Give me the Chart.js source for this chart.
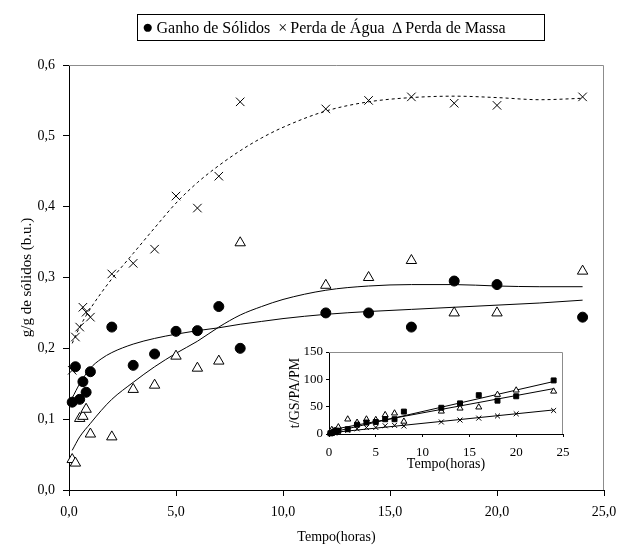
<!DOCTYPE html>
<html>
<head>
<meta charset="utf-8">
<script src="https://cdn.jsdelivr.net/npm/chart.js@4.4.1/dist/chart.umd.min.js"></script>
<style>
  body { margin: 0; background: #fff; }
  #wrap { position: relative; width: 619px; height: 548px; }
  #mainChart { position: absolute; left: 0; top: 0; }
  #insetChart { position: absolute; left: 270px; top: 340px; }
  #legend {
    position: absolute; left: 137px; top: 14px; width: 406px; height: 25px;
    border: 1px solid #000; font: 16px "Liberation Serif", "Times New Roman", serif;
    display: flex; align-items: center; white-space: nowrap; color: #000;
  }
  #legend .item { margin-left: 4px; margin-right: 4px; }
  #legend .sym { margin-right: 3px; }
  #legend .big { font-size: 19px; line-height: 16px; }
</style>
</head>
<body>
<div id="wrap">
  <canvas id="mainChart" width="619" height="548"></canvas>
  <canvas id="insetChart" width="300" height="136"></canvas>
  <div id="legend"></div>
</div>
<script>
// dados
const seriesLabels = ['Ganho de Sólidos', 'Perda de Água', 'Perda de Massa'];
const legendSymbols = ['●', '×', '∆'];

const tempo = [0.15, 0.3, 0.5, 0.65, 0.8, 1, 2, 3, 4, 5, 6, 7, 8, 12, 14, 16, 18, 20, 24];
const ganhoSolidos = [0.124, 0.174, 0.128, 0.153, 0.138, 0.167, 0.23, 0.176, 0.192, 0.224, 0.225, 0.259, 0.2, 0.25, 0.25, 0.23, 0.295, 0.29, 0.244];
const perdaAgua = [0.169, 0.216, 0.23, 0.258, 0.251, 0.244, 0.305, 0.32, 0.34, 0.415, 0.398, 0.443, 0.548, 0.538, 0.55, 0.555, 0.546, 0.543, 0.555];
const perdaMassa = [0.043, 0.038, 0.101, 0.104, 0.114, 0.079, 0.075, 0.142, 0.148, 0.189, 0.172, 0.182, 0.349, 0.289, 0.3, 0.324, 0.25, 0.25, 0.309];

// curvas de ajuste
const curvaX = [0.15, 0.5, 1, 1.5, 2, 3, 4, 5, 6, 7, 8, 9, 10, 12, 14, 16, 18, 20, 22, 24];
const curvaAgua = [0.207, 0.23, 0.256, 0.278, 0.298, 0.334, 0.37, 0.405, 0.434, 0.458, 0.479, 0.497, 0.512, 0.535, 0.548, 0.554, 0.556, 0.554, 0.551, 0.553];
const curvaGanho = [0.13, 0.15, 0.172, 0.185, 0.194, 0.206, 0.214, 0.22, 0.225, 0.229, 0.234, 0.238, 0.242, 0.248, 0.252, 0.255, 0.258, 0.261, 0.264, 0.268];
const curvaMassa = [0.056, 0.075, 0.094, 0.112, 0.128, 0.152, 0.174, 0.193, 0.21, 0.23, 0.247, 0.259, 0.269, 0.282, 0.288, 0.29, 0.29, 0.288, 0.287, 0.287];

const xTickVals = [0, 5, 10, 15, 20, 25];
const xTickLabels = ['0,0', '5,0', '10,0', '15,0', '20,0', '25,0'];
const yTickVals = [0, 0.1, 0.2, 0.3, 0.4, 0.5, 0.6];
const yTickLabels = ['0,0', '0,1', '0,2', '0,3', '0,4', '0,5', '0,6'];

// gráfico pequeno: t/GS, t/PA, t/PM
const insetGS = [1.2, 1.7, 3.9, 4.3, 5.8, 6, 8.7, 17, 21, 22, 27, 27, 41, 48, 56, 71, 61, 69, 98];
const insetPA = [0.9, 1.4, 2.2, 2.5, 3.2, 4.1, 6.6, 9.4, 11.8, 12, 15, 15.8, 14.6, 22, 25.5, 29, 33, 37, 43];
const insetPM = [3.5, 7.9, 5, 6.3, 7, 12.7, 27, 21, 27, 26, 35, 38, 23, 41.5, 47, 49, 72, 80, 78];
const retaX = [0, 24];
const retaGS = [2, 96];
const retaPA = [2, 44];
const retaPM = [7, 83];
const insetXTicks = [0, 5, 10, 15, 20, 25];
const insetYTicks = [0, 50, 100, 150];

const serif = '"Liberation Serif", "Times New Roman", serif';

function pts(xs, ys) {
  return xs.map((x, i) => ({ x: x, y: ys[i] }));
}

// borda cinza em cima e à direita da área do gráfico
const frame = {
  id: 'frame',
  beforeDraw(chart, args, opts) {
    if (opts.white) {
      chart.ctx.save();
      chart.ctx.fillStyle = '#fff';
      chart.ctx.fillRect(0, 0, chart.width, chart.height);
      chart.ctx.restore();
    }
  },
  beforeDatasetsDraw(chart) {
    const { ctx, chartArea: a } = chart;
    ctx.save();
    ctx.strokeStyle = '#8c8c8c';
    ctx.lineWidth = 1;
    ctx.beginPath();
    ctx.moveTo(a.left, Math.round(a.top) + 0.5);
    ctx.lineTo(Math.round(a.right) - 0.5, Math.round(a.top) + 0.5);
    ctx.lineTo(Math.round(a.right) - 0.5, a.bottom);
    ctx.stroke();
    ctx.restore();
  }
};

function markerSet(label, ys, xs, style, radius, fill) {
  return {
    label: label,
    data: pts(xs, ys),
    showLine: false,
    pointStyle: style,
    pointRadius: radius,
    pointBackgroundColor: fill,
    pointBorderColor: '#000',
    pointBorderWidth: 1,
    clip: false
  };
}

function curveSet(xs, ys, dash) {
  return {
    data: pts(xs, ys),
    showLine: true,
    pointRadius: 0,
    borderColor: '#000',
    borderWidth: 1,
    borderDash: dash,
    cubicInterpolationMode: 'monotone'
  };
}

// eixo x sem folga extra para o último rótulo
function fixX(h) {
  return s => { s.height = h; s.paddingLeft = 0; s.paddingRight = 0; };
}

new Chart(document.getElementById('mainChart'), {
  type: 'scatter',
  data: {
    datasets: [
      markerSet(seriesLabels[0], ganhoSolidos, tempo, 'circle', 5, '#000'),
      markerSet(seriesLabels[1], perdaAgua, tempo, 'crossRot', 6, '#000'),
      markerSet(seriesLabels[2], perdaMassa, tempo, 'triangle', 6, '#fff'),
      curveSet(curvaX, curvaAgua, [3, 3]),
      curveSet(curvaX, curvaGanho, []),
      curveSet(curvaX, curvaMassa, [])
    ]
  },
  options: {
    responsive: false,
    animation: false,
    layout: { padding: { top: 65, right: 15, left: 0, bottom: 0 } },
    plugins: {
      legend: { display: false },
      tooltip: { enabled: false },
      frame: {}
    },
    scales: {
      x: {
        type: 'linear',
        min: 0,
        max: 25,
        afterBuildTicks: s => { s.ticks = xTickVals.map(v => ({ value: v })); },
        afterFit: fixX(58),
        ticks: {
          callback: (v, i) => xTickLabels[i],
          font: { family: serif, size: 14 },
          color: '#000',
          padding: 8,
          maxRotation: 0
        },
        grid: { drawOnChartArea: false, tickLength: 6, tickColor: '#000' },
        border: { color: '#000', width: 1 },
        title: {
          display: true,
          text: 'Tempo(horas)',
          font: { family: serif, size: 14 },
          color: '#000',
          padding: { top: 0, bottom: 2 }
        }
      },
      y: {
        type: 'linear',
        min: 0,
        max: 0.6,
        afterBuildTicks: s => { s.ticks = yTickVals.map(v => ({ value: v })); },
        afterFit: s => { s.width = 69; },
        ticks: {
          callback: (v, i) => yTickLabels[i],
          font: { family: serif, size: 14 },
          color: '#000',
          padding: 8
        },
        grid: { drawOnChartArea: false, tickLength: 6, tickColor: '#000' },
        border: { color: '#000', width: 1 },
        title: {
          display: true,
          text: 'g/g de sólidos (b.u.)',
          font: { family: serif, size: 15 },
          color: '#000',
          padding: { top: 18, bottom: 0 }
        }
      }
    }
  },
  plugins: [frame]
});

// gráfico inserido
new Chart(document.getElementById('insetChart'), {
  type: 'scatter',
  data: {
    datasets: [
      markerSet('t/GS', insetGS, tempo, 'rect', 3.5, '#000'),
      markerSet('t/PA', insetPA, tempo, 'crossRot', 3.5, '#000'),
      markerSet('t/PM', insetPM, tempo, 'triangle', 3.5, '#fff'),
      curveSet(retaX, retaGS, []),
      curveSet(retaX, retaPA, []),
      curveSet(retaX, retaPM, [])
    ]
  },
  options: {
    responsive: false,
    animation: false,
    layout: { padding: { top: 12, right: 7, left: 0, bottom: 0 } },
    plugins: {
      legend: { display: false },
      tooltip: { enabled: false },
      frame: { white: true }
    },
    scales: {
      x: {
        type: 'linear',
        min: 0,
        max: 25,
        afterBuildTicks: s => { s.ticks = insetXTicks.map(v => ({ value: v })); },
        afterFit: fixX(42),
        ticks: {
          font: { family: serif, size: 13 },
          color: '#000',
          padding: 8,
          maxRotation: 0
        },
        grid: { drawOnChartArea: false, tickLength: 3, tickColor: '#000' },
        border: { color: '#000', width: 1 },
        title: {
          display: true,
          text: 'Tempo(horas)',
          font: { family: serif, size: 14 },
          color: '#000',
          padding: { top: 0, bottom: 3 }
        }
      },
      y: {
        type: 'linear',
        min: 0,
        max: 150,
        afterBuildTicks: s => { s.ticks = insetYTicks.map(v => ({ value: v })); },
        afterFit: s => { s.width = 59; },
        ticks: {
          font: { family: serif, size: 13 },
          color: '#000',
          padding: 3
        },
        grid: { drawOnChartArea: false, tickLength: 3, tickColor: '#000' },
        border: { color: '#000', width: 1 },
        title: {
          display: true,
          text: 't/GS/PA/PM',
          font: { family: serif, size: 14 },
          color: '#000',
          padding: { top: 17, bottom: 0 }
        }
      }
    }
  },
  plugins: [frame]
});

// legenda
const legend = document.getElementById('legend');
seriesLabels.forEach((label, i) => {
  const cls = i === 0 ? 'sym big' : 'sym';
  legend.innerHTML += '<span class="item"><span class="' + cls + '">' + legendSymbols[i] + '</span>' + label + '</span>';
});
</script>
</body>
</html>
